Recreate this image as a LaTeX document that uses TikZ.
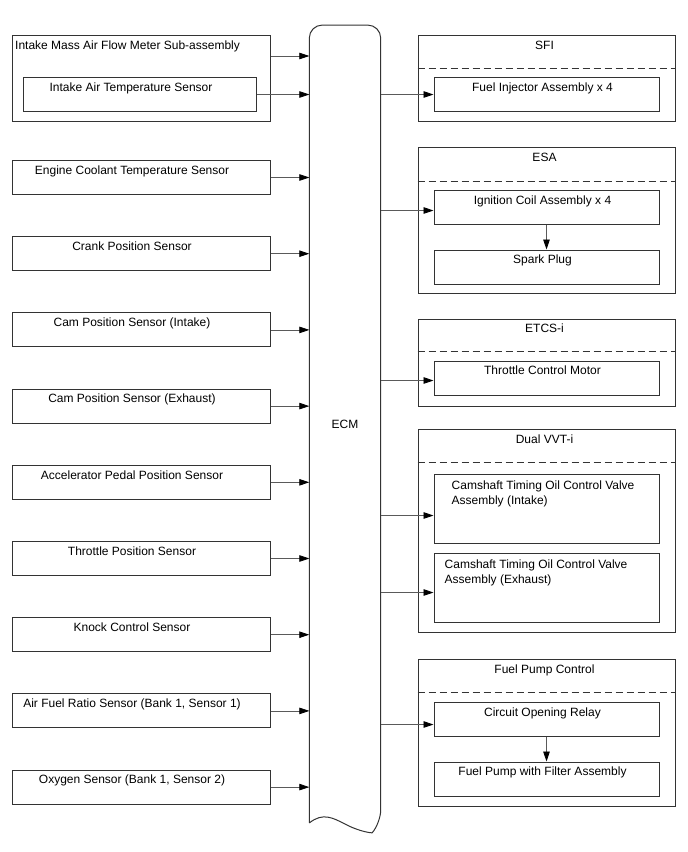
\documentclass[tikz,border=0pt]{standalone}
\usepackage{fontspec}
\setmainfont{Liberation Sans}
\usetikzlibrary{arrows.meta,positioning}
\definecolor{boxline}{HTML}{333333}
\definecolor{wire}{HTML}{5A5A5A}

\tikzset{
  box/.style={draw=boxline, line width=1pt, inner sep=0pt},
  boxtxt/.style={below, yshift=-5pt, inner sep=0pt, text height=9pt, text depth=3pt},
  valvetxt/.style={anchor=north west, align=left, inner sep=0pt, yshift=-6.5pt},
  sensor/.style={box, minimum width=258pt, minimum height=34pt, label={[boxtxt, xshift=-9pt]north:#1}},
  part/.style={box, minimum width=225pt, minimum height=34pt, label={[boxtxt, xshift=-4pt]north:#1}},
  valve/.style={box, minimum width=225pt, minimum height=69pt},
  group/.style={box, minimum width=257pt, anchor=north, label={[boxtxt, xshift=-2pt]north:#1}},
  sep/.style={draw=boxline, line width=1pt, dash pattern=on 7pt off 4pt},
  sig/.style={draw=wire, line width=0.8pt, -{Triangle[length=10pt, width=6.5pt, color=black]}},
}

\begin{document}
\begin{tikzpicture}[x=1pt, y=-1pt, font=\fontsize{12pt}{15pt}\selectfont]
  \useasboundingbox (0,0) rectangle (688,852);

  % ECM
  \node[minimum width=71pt, minimum height=797.5pt, inner sep=0pt] (ecm) at (345,424) {ECM};
  \draw[box, rounded corners=13pt] (ecm.south west) -- (ecm.north west) -- (ecm.north east) -- (ecm.south east)
    [sharp corners] .. controls (372,833) and (360,832) .. (345,824) .. controls (333,818) and (323,812) .. (ecm.south west);

  % inputs
  \node[box, minimum width=258pt, minimum height=86pt, anchor=north west,
        label={[boxtxt, anchor=north west, xshift=3pt]north west:Intake Mass Air Flow Meter Sub-assembly}] (maf) at (12,35) {};
  \node[sensor=Intake Air Temperature Sensor, minimum width=233pt, below=42pt of maf.north, xshift=-1.5pt] (iat) {};
  \node[sensor=Engine Coolant Temperature Sensor, anchor=north] (ect) at (141,160) {};
  \node[sensor=Crank Position Sensor, below=41.2pt of ect] (ckp) {};
  \node[sensor=Cam Position Sensor (Intake), below=41.2pt of ckp] (cmpi) {};
  \node[sensor=Cam Position Sensor (Exhaust), below=41.2pt of cmpi] (cmpe) {};
  \node[sensor=Accelerator Pedal Position Sensor, below=41.2pt of cmpe] (apps) {};
  \node[sensor=Throttle Position Sensor, below=41.2pt of apps] (tps) {};
  \node[sensor=Knock Control Sensor, below=41.2pt of tps] (ks) {};
  \node[sensor={Air Fuel Ratio Sensor (Bank 1, Sensor 1)}, below=41.2pt of ks] (afs) {};
  \node[sensor={Oxygen Sensor (Bank 1, Sensor 2)}, below=41.2pt of afs] (o2s) {};

  \draw[sig] ([yshift=-21pt]maf.north east) -- ([yshift=-21pt]maf.north east -| ecm.west);
  \draw[sig] (iat.east) -- (iat.east -| ecm.west);
  \draw[sig] (ect.east) -- (ect.east -| ecm.west);
  \draw[sig] (ckp.east) -- (ckp.east -| ecm.west);
  \draw[sig] (cmpi.east) -- (cmpi.east -| ecm.west);
  \draw[sig] (cmpe.east) -- (cmpe.east -| ecm.west);
  \draw[sig] (apps.east) -- (apps.east -| ecm.west);
  \draw[sig] (tps.east) -- (tps.east -| ecm.west);
  \draw[sig] (ks.east) -- (ks.east -| ecm.west);
  \draw[sig] (afs.east) -- (afs.east -| ecm.west);
  \draw[sig] (o2s.east) -- (o2s.east -| ecm.west);

  % outputs
  \node[group=SFI, minimum height=86pt] (sfi) at (546.5,35) {};
  \draw[sep] ([yshift=-33pt]sfi.north west) -- ([yshift=-33pt]sfi.north east);
  \node[part=Fuel Injector Assembly x 4, below=42pt of sfi.north] (inj) {};

  \node[group=ESA, minimum height=146pt] (esa) at (546.5,147) {};
  \draw[sep] ([yshift=-34pt]esa.north west) -- ([yshift=-34pt]esa.north east);
  \node[part=Ignition Coil Assembly x 4, below=43pt of esa.north] (ico) {};
  \node[part=Spark Plug, below=24.5pt of ico] (spk) {};

  \node[group=ETCS-i, minimum height=87pt] (etcs) at (546.5,318.5) {};
  \draw[sep] ([yshift=-33pt]etcs.north west) -- ([yshift=-33pt]etcs.north east);
  \node[part=Throttle Control Motor, below=42pt of etcs.north] (tcm) {};

  \node[group=Dual VVT-i, minimum height=202.5pt] (vvt) at (546.5,429) {};
  \draw[sep] ([yshift=-33.5pt]vvt.north west) -- ([yshift=-33.5pt]vvt.north east);
  \node[valve, below=45pt of vvt.north,
        label={[valvetxt, xshift=18pt]north west:Camshaft Timing Oil Control Valve\\Assembly (Intake)}] (ocvi) {};
  \node[valve, below=9pt of ocvi,
        label={[valvetxt, xshift=11pt]north west:Camshaft Timing Oil Control Valve\\Assembly (Exhaust)}] (ocve) {};

  \node[group=Fuel Pump Control, minimum height=147pt] (fpc) at (546.5,659) {};
  \draw[sep] ([yshift=-33.5pt]fpc.north west) -- ([yshift=-33.5pt]fpc.north east);
  \node[part=Circuit Opening Relay, below=43pt of fpc.north] (cor) {};
  \node[part=Fuel Pump with Filter Assembly, below=24.5pt of cor] (fpm) {};

  \draw[sig] (inj.west -| ecm.east) -- (inj.west);
  \draw[sig] ([yshift=-3pt]ico.west -| ecm.east) -- ([yshift=-3pt]ico.west);
  \draw[sig] (ico) -- (spk);
  \draw[sig] ([yshift=-2.5pt]tcm.west -| ecm.east) -- ([yshift=-2.5pt]tcm.west);
  \draw[sig] ([yshift=-6.5pt]ocvi.west -| ecm.east) -- ([yshift=-6.5pt]ocvi.west);
  \draw[sig] ([yshift=-4.5pt]ocve.west -| ecm.east) -- ([yshift=-4.5pt]ocve.west);
  \draw[sig] ([yshift=-5pt]cor.west -| ecm.east) -- ([yshift=-5pt]cor.west);
  \draw[sig] (cor) -- (fpm);
\end{tikzpicture}
\end{document}
